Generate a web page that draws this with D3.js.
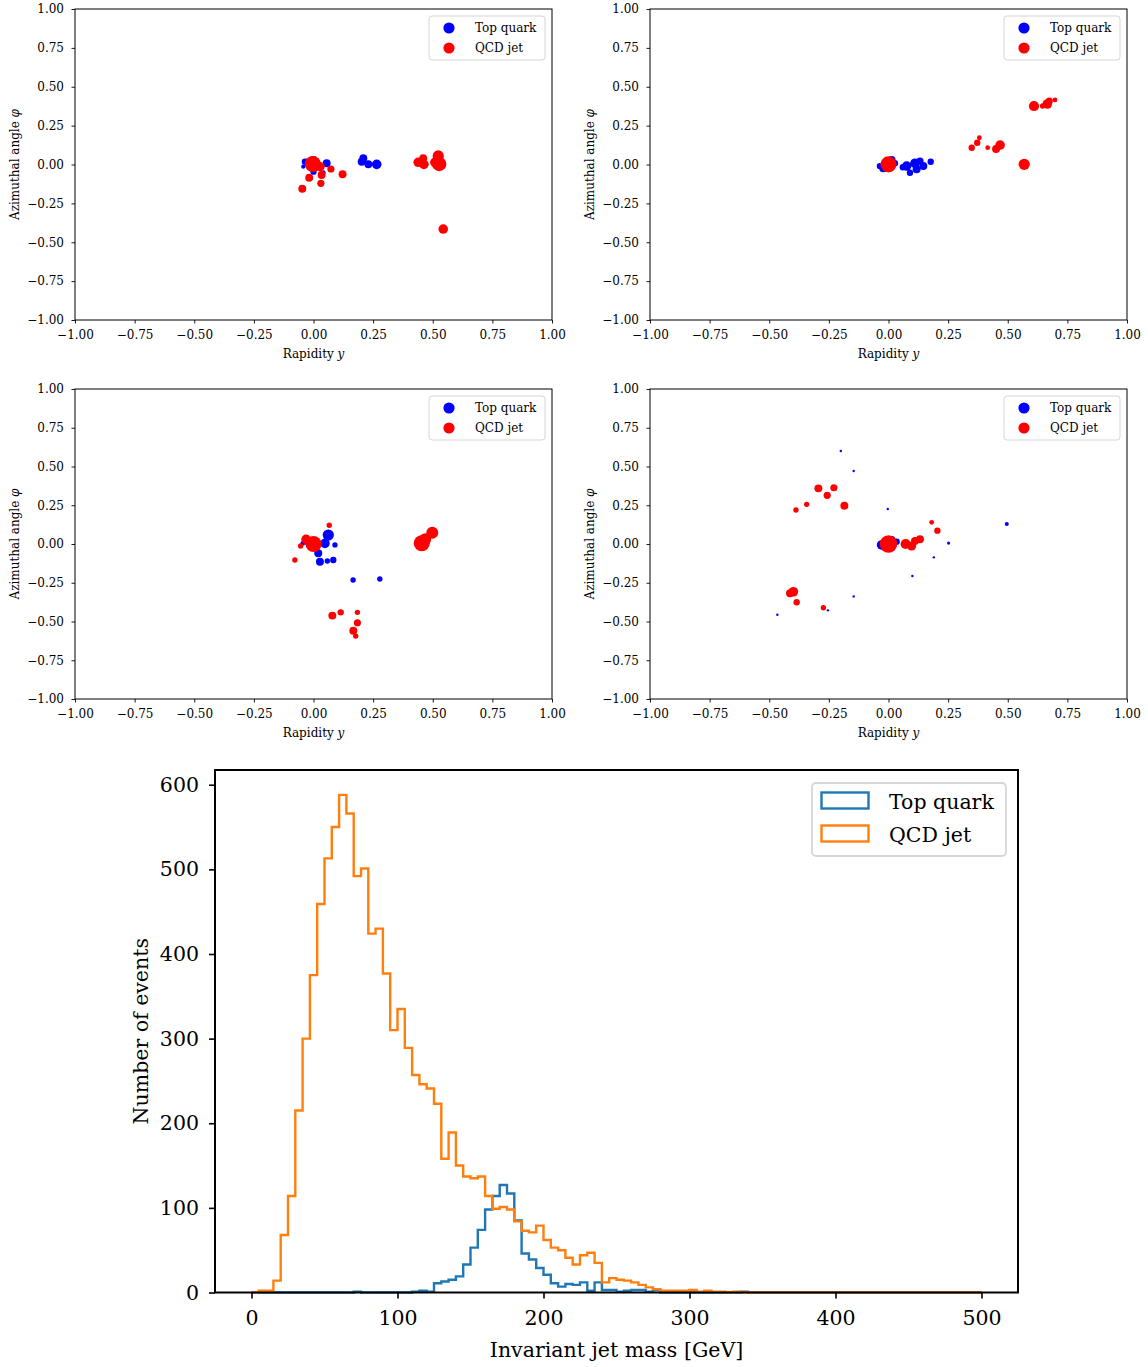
<!DOCTYPE html>
<html><head><meta charset="utf-8">
<script src="https://cdn.jsdelivr.net/npm/d3@7"></script>
<style>body{margin:0;background:#fff}svg text{font-family:"DejaVu Serif",serif;fill:#000}</style>
</head><body><svg id="c" width="1148" height="1367"></svg>
<script>
// ---------- DATA ----------
// scatter panels: each point [rapidity y, azimuth phi, weight (relative pT)]
const seriesNames = ["Top quark", "QCD jet"];
const jet1Top = [[-0.036,0.018,7],[-0.043,-0.014,3],[0.0,0.029,11],[0.055,0.008,11],[0.041,-0.053,4],[0.0,-0.046,7],[0.209,0.040,11],[0.202,0.018,11],[0.230,0.001,11],[0.265,0.001,16]];
const jet1Qcd = [[-0.003,0.003,45],[0.027,-0.014,16],[0.034,-0.068,11],[-0.018,-0.085,11],[0.031,-0.121,9],[-0.047,-0.156,11],[0.073,-0.029,9],[0.122,-0.063,11],[0.439,0.014,16],[0.460,0.040,11],[0.463,0.001,16],[0.523,0.055,22],[0.509,0.014,16],[0.527,0.003,36],[0.544,-0.415,16]];
const jet2Top = [[-0.022,-0.024,11],[0.013,0.029,11],[0.027,0.008,7],[-0.036,-0.010,7],[0.076,-0.010,16],[0.111,0.008,16],[0.090,-0.053,7],[0.146,-0.010,11],[0.177,0.018,7],[0.118,-0.031,11],[0.060,-0.018,7],[0.132,0.022,9]];
const jet2Qcd = [[0.000,0.001,45],[0.349,0.108,7],[0.372,0.140,7],[0.381,0.172,4],[0.416,0.108,4],[0.451,0.100,11],[0.468,0.125,16],[0.569,0.001,22],[0.610,0.376,18],[0.646,0.376,5],[0.666,0.389,16],[0.674,0.408,9],[0.698,0.415,4]];
const jet3Top = [[-0.018,0.015,16],[0.062,0.058,22],[0.048,0.004,16],[0.090,-0.006,5],[0.020,-0.060,11],[0.027,-0.114,11],[0.058,-0.110,5],[0.083,-0.103,7],[-0.045,0.004,4],[0.166,-0.232,5],[0.278,-0.226,5]];
const jet3Qcd = [[0.000,0.000,45],[-0.031,0.030,16],[-0.054,-0.013,5],[-0.078,-0.103,5],[0.066,0.121,5],[0.454,0.005,45],[0.468,0.030,25],[0.498,0.073,25],[0.079,-0.462,11],[0.114,-0.441,7],[0.184,-0.441,5],[0.184,-0.508,9],[0.167,-0.559,11],[0.177,-0.594,5]];
const jet4Top = [[-0.029,-0.006,16],[0.034,0.015,7],[0.013,0.026,11],[-0.200,0.600,1],[-0.146,0.471,1],[-0.003,0.226,1],[0.252,0.006,1.7],[0.190,-0.086,1],[0.100,-0.206,1],[-0.146,-0.338,1],[-0.254,-0.428,1],[-0.466,-0.456,1],[0.496,0.129,2.8]];
const jet4Qcd = [[0.000,0.000,53],[0.072,0.000,18],[0.097,-0.013,14],[0.111,0.019,11],[0.132,0.030,11],[0.181,0.140,4],[0.205,0.086,7],[-0.294,0.359,11],[-0.229,0.363,9],[-0.257,0.314,9],[-0.343,0.256,5],[-0.388,0.219,5],[-0.185,0.247,11],[-0.399,-0.308,16],[-0.413,-0.318,11],[-0.385,-0.376,7],[-0.273,-0.411,5]];
const scatterTicks = [-1,-0.75,-0.5,-0.25,0,0.25,0.5,0.75,1];

// histogram: 5 GeV bins from 0 to 500 GeV
const binEdgeStart = 0, binWidth = 5;
const topCounts = [0,0,0,0,0,0,0,0,0,0, 0,0,0,0,1,0,0,0,0,0, 0,0,1,2,1,11,13,15,19,33, 53,74,98,114,127,117,85,46,39,29, 21,11,7,10,9,12,2,12,3,3, 1,2,3,3,1,3,0,0,0,0, 0,0,0,0,0,0,0,1,0,0, 0,0,0,0,0,0,0,0,0,0, 0,0,0,0,0,0,0,0,0,0, 0,0,0,0,0,0,0,0,0,0];
const qcdCounts = [0,2,2,14,68,114,215,300,375,459, 513,550,588,566,492,501,424,430,377,310, 335,289,257,246,241,223,158,189,150,137, 135,137,114,99,101,98,84,73,71,79, 62,53,50,41,33,44,47,35,12,17, 15,14,12,9,6,4,2,2,2,2, 3,1,2,1,1,0,1,0,0,0, 0,0,0,0,0,0,0,0,0,0, 0,0,0,0,0,0,0,0,0,0, 0,0,0,0,0,0,0,0,0,0];
const histXTicks = [0,100,200,300,400,500];
const histYTicks = [0,100,200,300,400,500,600];

// ---------- DRAW ----------
const svg = d3.select("#c");
const fmt = d3.format(".2f");
const rScale = d3.scaleSqrt().domain([0,100]).range([0,12]);
const scatterColors = ["#0000ff","#ff0000"];

function scatterPanel(box, topPts, qcdPts){
  const x = d3.scaleLinear().domain([-1,1]).range([box.l, box.r]);
  const y = d3.scaleLinear().domain([-1,1]).range([box.b, box.t]);
  const g = svg.append("g");
  [[topPts,0],[qcdPts,1]].forEach(([pts,i])=>{
    g.append("g").selectAll("circle").data(pts).join("circle")
      .attr("cx",d=>x(d[0])).attr("cy",d=>y(d[1])).attr("r",d=>rScale(d[2]))
      .attr("fill",scatterColors[i]);
  });
  const ax = g.append("g").attr("transform",`translate(0,${box.b})`)
    .call(d3.axisBottom(x).tickValues(scatterTicks).tickFormat(fmt).tickSize(3.5).tickPadding(7));
  const ay = g.append("g").attr("transform",`translate(${box.l},0)`)
    .call(d3.axisLeft(y).tickValues(scatterTicks).tickFormat(fmt).tickSize(3.5).tickPadding(7.5));
  [ax,ay].forEach(a=>{a.select(".domain").remove();a.selectAll("text").attr("font-size",12).attr("font-family","DejaVu Serif");
    a.selectAll("line").attr("stroke","#000").attr("stroke-width",0.9);});
  g.append("rect").attr("x",box.l).attr("y",box.t).attr("width",box.r-box.l).attr("height",box.b-box.t)
    .attr("fill","none").attr("stroke","#000").attr("stroke-width",1);
  const xl = g.append("text").attr("x",(box.l+box.r)/2).attr("y",box.b+38).attr("text-anchor","middle").attr("font-size",12);
  xl.append("tspan").text("Rapidity ");
  xl.append("tspan").attr("font-style","italic").text("y");
  const yl = g.append("text").attr("transform",`translate(${box.l-56.5},${(box.t+box.b)/2}) rotate(-90)`).attr("text-anchor","middle").attr("font-size",12);
  yl.append("tspan").text("Azimuthal angle ");
  yl.append("tspan").attr("font-style","italic").text("φ");
  const lg = g.append("g").attr("transform",`translate(${box.r-123},${box.t+7})`);
  lg.append("rect").attr("width",116).attr("height",44).attr("rx",3).attr("fill","#fff").attr("fill-opacity",0.8)
    .attr("stroke","#d6d6d6").attr("stroke-width",1);
  seriesNames.forEach((n,i)=>{
    lg.append("circle").attr("cx",20).attr("cy",12+20*i).attr("r",5.6).attr("fill",scatterColors[i]);
    lg.append("text").attr("x",46).attr("y",16+20*i).attr("font-size",12).text(n);
  });
}
scatterPanel({l:75,r:552,t:9,b:320}, jet1Top, jet1Qcd);
scatterPanel({l:650,r:1127,t:9,b:320}, jet2Top, jet2Qcd);
scatterPanel({l:75,r:552,t:389,b:699}, jet3Top, jet3Qcd);
scatterPanel({l:650,r:1127,t:389,b:699}, jet4Top, jet4Qcd);

// histogram
(function(){
  const box = {l:215,r:1018,t:770,b:1292.5};
  const edges = d3.range(topCounts.length+1).map(i=>binEdgeStart+i*binWidth);
  const lo = edges[0], hi = edges[edges.length-1], pad = (hi-lo)*0.05;
  const ymax = d3.max(qcdCounts.concat(topCounts))*1.05;
  const x = d3.scaleLinear().domain([lo-pad, hi+pad]).range([box.l, box.r]);
  const y = d3.scaleLinear().domain([0, ymax]).range([box.b, box.t]);
  const g = svg.append("g");
  const colors = ["#1f77b4","#ff7f0e"];
  function stepPath(counts){
    const p = d3.path();
    p.moveTo(x(edges[0]), y(0));
    counts.forEach((c,i)=>{ p.lineTo(x(edges[i]), y(c)); p.lineTo(x(edges[i+1]), y(c)); });
    p.lineTo(x(edges[edges.length-1]), y(0));
    return p.toString();
  }
  [topCounts, qcdCounts].forEach((c,i)=>{
    g.append("path").attr("d",stepPath(c)).attr("fill","none").attr("stroke",colors[i])
      .attr("stroke-width",2.4).attr("stroke-linejoin","miter");
  });
  const ax = g.append("g").attr("transform",`translate(0,${box.b})`)
    .call(d3.axisBottom(x).tickValues(histXTicks).tickFormat(d3.format("d")).tickSize(6).tickPadding(12));
  const ay = g.append("g").attr("transform",`translate(${box.l},0)`)
    .call(d3.axisLeft(y).tickValues(histYTicks).tickFormat(d3.format("d")).tickSize(6).tickPadding(10));
  [ax,ay].forEach(a=>{a.select(".domain").remove();a.selectAll("text").attr("font-size",20.5).attr("font-family","DejaVu Serif");
    a.selectAll("line").attr("stroke","#000").attr("stroke-width",1.6);});
  g.append("rect").attr("x",box.l).attr("y",box.t).attr("width",box.r-box.l).attr("height",box.b-box.t)
    .attr("fill","none").attr("stroke","#000").attr("stroke-width",2);
  g.append("text").attr("x",(box.l+box.r)/2).attr("y",1357).attr("text-anchor","middle").attr("font-size",20.5)
    .text("Invariant jet mass [GeV]");
  g.append("text").attr("transform",`translate(148,${(box.t+box.b)/2}) rotate(-90)`).attr("text-anchor","middle")
    .attr("font-size",20.5).text("Number of events");
  const lg = g.append("g").attr("transform","translate(812,783)");
  lg.append("rect").attr("width",194).attr("height",73).attr("rx",4).attr("fill","#fff").attr("fill-opacity",0.8)
    .attr("stroke","#d6d6d6").attr("stroke-width",1.8);
  seriesNames.forEach((n,i)=>{
    lg.append("rect").attr("x",9.5).attr("y",9.5+33*i).attr("width",47).attr("height",16)
      .attr("fill","none").attr("stroke",colors[i]).attr("stroke-width",2.4);
    lg.append("text").attr("x",77).attr("y",25.5+33*i).attr("font-size",20.5).text(n);
  });
})();
</script></body></html>
